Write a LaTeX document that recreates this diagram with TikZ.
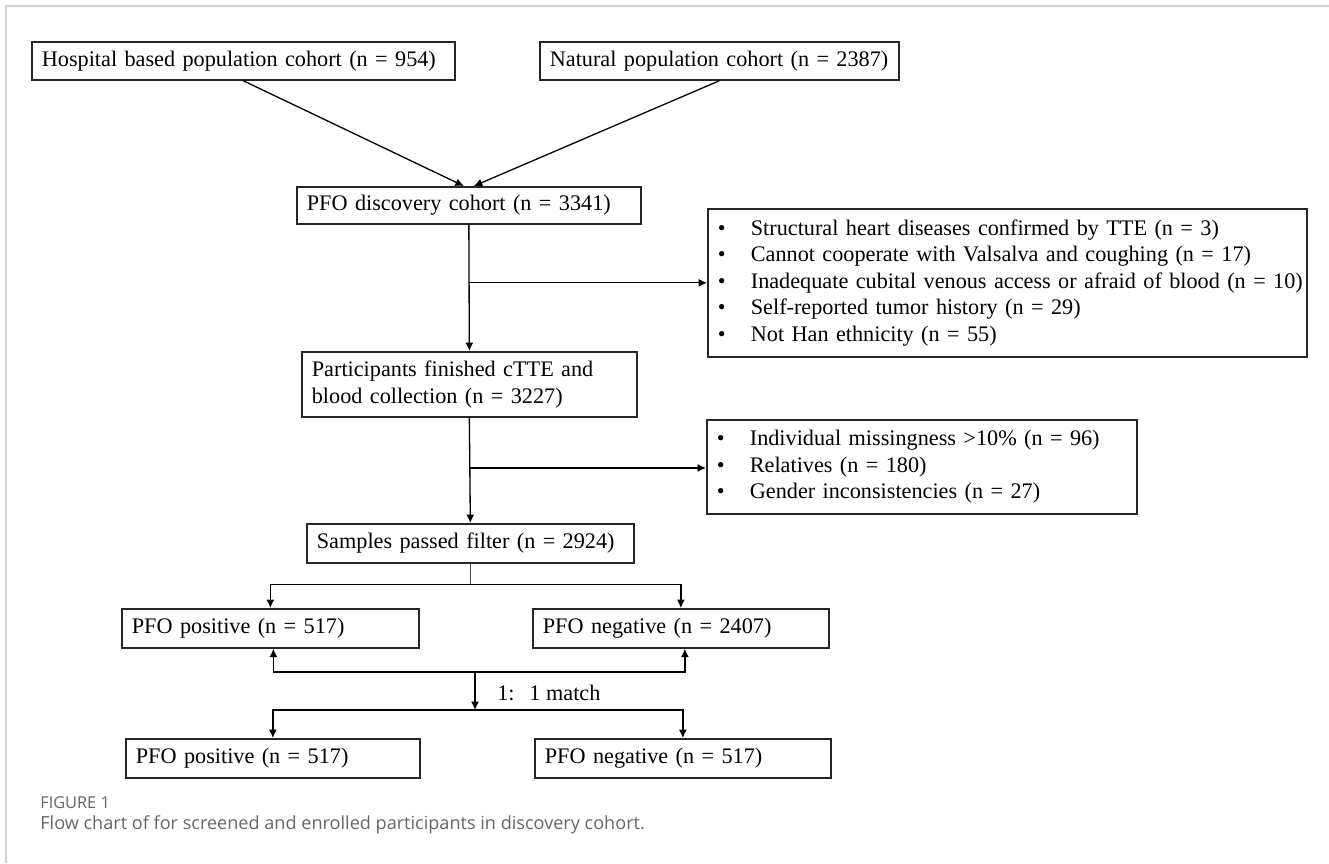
\documentclass[tikz,border=0pt]{standalone}
\usepackage{fontspec}
\setmainfont{Liberation Serif}
\newfontfamily\capfont{Open Sans}
\usetikzlibrary{arrows.meta,calc}
\newcommand{\exbullet}{\makebox[0.66cm][l]{\textbullet}}
\newcommand{\exline}[1]{\mbox{#1}}
\begin{document}
\begin{tikzpicture}[x=0.02cm,y=-0.02cm,
  box/.style={draw=black!85,line width=1pt,anchor=north west,align=left,inner xsep=0.2cm,inner ysep=0pt,
    font=\fontsize{12.65pt}{15.1pt}\selectfont},
  arr/.style={line width=0.75pt,-{Latex[length=4.8pt,width=4.6pt]}}]
\useasboundingbox (0,0) rectangle (1329,863);
\draw[black!18,line width=0.9pt] (6,863) -- (6,6) -- (1329,6);

\node[box,text width=8.06cm,minimum height=0.76cm] (hosp) at (31,41) {\exline{Hospital based population cohort (n = 954)}};
\node[box,text width=6.78cm,minimum height=0.76cm] (natu) at (539,41) {\exline{Natural population cohort (n = 2387)}};
\node[box,text width=6.48cm,minimum height=0.74cm] (disc) at (296,186) {\exline{PFO discovery cohort (n = 3341)}};
\node[box,text width=11.58cm,minimum height=2.96cm] (excl1) at (707,208) {\exline{\exbullet Structural heart diseases confirmed by TTE (n = 3)}\\
\exline{\exbullet Cannot cooperate with Valsalva and coughing (n = 17)}\\
\exline{\exbullet Inadequate cubital venous access or afraid of blood (n = 10)}\\
\exline{\exbullet Self-reported tumor history (n = 29)}\\
\exline{\exbullet Not Han ethnicity (n = 55)}};
\node[box,text width=6.3cm,minimum height=1.3cm] (part) at (301,351) {\exline{Participants finished cTTE and}\\\exline{blood collection (n = 3227)}};
\node[box,text width=8.2cm,minimum height=1.88cm] (excl2) at (706,419) {\exline{\exbullet Individual missingness >10\% (n = 96)}\\
\exline{\exbullet Relatives (n = 180)}\\
\exline{\exbullet Gender inconsistencies (n = 27)}};
\node[box,text width=6.14cm,minimum height=0.78cm] (samp) at (306,523) {\exline{Samples passed filter (n = 2924)}};
\node[box,text width=5.54cm,minimum height=0.78cm] (pos1) at (121,608) {\exline{PFO positive (n = 517)}};
\node[box,text width=5.52cm,minimum height=0.78cm] (neg1) at (532,608) {\exline{PFO negative (n = 2407)}};
\node[box,text width=5.48cm,minimum height=0.78cm] (pos2) at (125,738) {\exline{PFO positive (n = 517)}};
\node[box,text width=5.52cm,minimum height=0.78cm] (neg2) at (534,738) {\exline{PFO negative (n = 517)}};

\coordinate (split0) at ($(disc.south)!0.46!(part.north)$);
\coordinate (split1) at ($(part.south)!0.477!(samp.north)$);
\coordinate (split2) at ($(samp.south)+(0,21)$);
\coordinate (m1) at (475,672);
\coordinate (m2) at (475,710);

\draw[arr] (hosp.south) -- ($(disc.north)+(-5,0)$);
\draw[arr] (natu.south) -- ($(disc.north)+(5,0)$);
\draw[arr] (disc.south) -- (part.north);
\draw[arr] (split0) -- (split0 -| excl1.west);
\draw[arr] (part.south) -- (samp.north);
\draw[arr] (split1) -- (split1 -| excl2.west);
\draw[black!70,line width=0.5pt] (samp.south) -- (split2);
\draw[arr] (split2) -| (pos1.north);
\draw[arr] (split2) -| (neg1.north);
\draw[arr] (m1) -| ($(pos1.south)+(3,0)$);
\draw[arr] (m1) -| ($(neg1.south)+(4,0)$);
\draw[arr] (m1) -- (m2);
\draw[arr] (m2) -| (pos2.north);
\draw[arr] (m2) -| (neg2.north);
\node[anchor=west,inner sep=0pt,font=\fontsize{12.65pt}{15.1pt}\selectfont] (ratio) at (497,693) {1:\ \ \,1 match};

\node[anchor=west,inner sep=0pt,text=black!60,font=\capfont\fontsize{9.3pt}{10pt}\selectfont] (fig) at (40,803) {FIGURE 1};
\node[anchor=west,inner sep=0pt,text=black!60,font=\capfont\fontsize{10.3pt}{12pt}\selectfont] (cap) at (40,825) {Flow chart of for screened and enrolled participants in discovery cohort.};
\end{tikzpicture}
\end{document}
